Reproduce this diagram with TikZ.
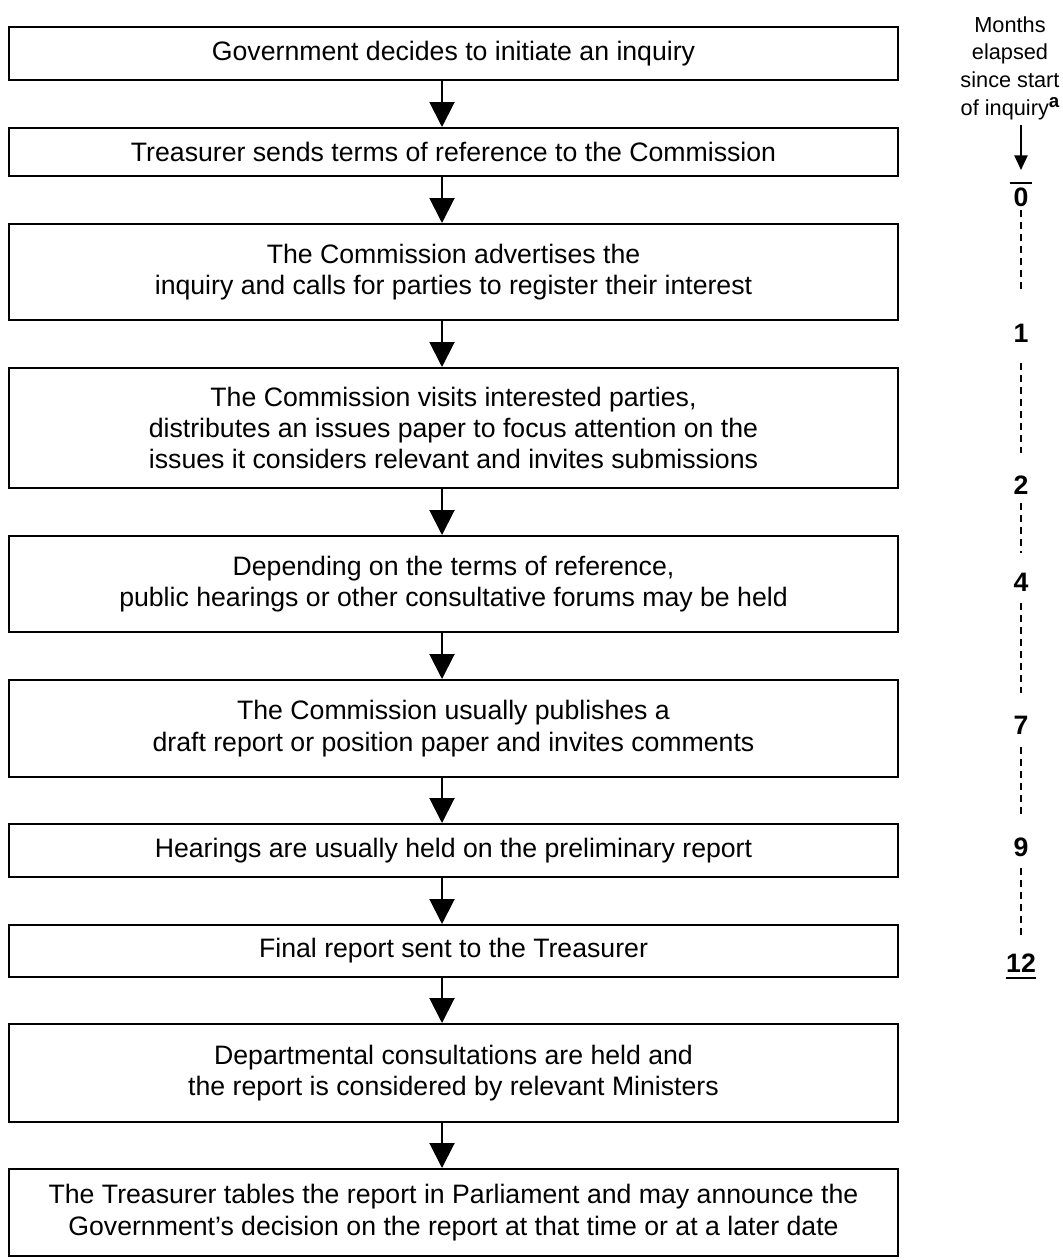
\documentclass[tikz,border=0pt]{standalone}
\usepackage{fontspec}
\setmainfont{Liberation Sans}
\usetikzlibrary{arrows.meta}
\begin{document}
\begin{tikzpicture}[x=0.75pt,y=-0.75pt,
  stepbox/.style={draw, line width=1.5pt, minimum width=666.75pt, inner sep=0pt, align=center,
    font=\fontsize{20}{23.5}\selectfont},
  flow/.style={line width=1.5pt, -{Triangle[length=18.75pt,width=18.75pt]}},
  mlabel/.style={font=\fontsize{20}{24}\selectfont\bfseries, inner sep=0pt},
  hdrtext/.style={font=\fontsize{16.3}{20.8}\selectfont, align=center, inner sep=0pt},
  tarr/.style={line width=1.1pt, -{Triangle[length=11pt,width=10pt]}},
  dashline/.style={line width=1.1pt, dash pattern=on 5pt off 4pt},
  barline/.style={line width=1.6pt}
]
\useasboundingbox (0,0) rectangle (1063,1260);

% process boxes
\node[stepbox, minimum height=39.75pt] (b1) at (453.5,53.5) {Government decides to initiate an inquiry};
\node[stepbox, minimum height=36pt] (b2) at (453.5,152) {Treasurer sends terms of reference to the Commission};
\node[stepbox, minimum height=72pt] (b3) at (453.5,272) {The Commission advertises the\\inquiry and calls for parties to register their interest};
\node[stepbox, minimum height=90pt] (b4) at (453.5,428) {The Commission visits interested parties,\\distributes an issues paper to focus attention on the\\issues it considers relevant and invites submissions};
\node[stepbox, minimum height=72pt] (b5) at (453.5,584) {Depending on the terms of reference,\\public hearings or other consultative forums may be held};
\node[stepbox, minimum height=72.75pt] (b6) at (453.5,728.5) {The Commission usually publishes a\\draft report or position paper and invites comments};
\node[stepbox, minimum height=39.75pt] (b7) at (453.5,850.5) {Hearings are usually held on the preliminary report};
\node[stepbox, minimum height=39pt] (b8) at (453.5,951) {Final report sent to the Treasurer};
\node[stepbox, minimum height=73.5pt] (b9) at (453.5,1073) {Departmental consultations are held and\\the report is considered by relevant Ministers};
\node[stepbox, minimum height=65.25pt] (b10) at (453.5,1212.5) {The Treasurer tables the report in Parliament and may announce the\\Government’s decision on the report at that time or at a later date};

\coordinate (ax) at (442,0);
\foreach \a/\b in {b1/b2,b2/b3,b3/b4,b4/b5,b5/b6,b6/b7,b7/b8,b8/b9,b9/b10}
  \draw[flow] (\a.south -| ax) -- (\b.north -| ax);

% timeline
\node[hdrtext] (hdr) at (1010,68) {Months\\elapsed\\since start\\of inquiry{\fontsize{14}{14}\selectfont\bfseries\raisebox{6pt}{a}}};
\node[mlabel] (m0) at (1021,197) {0};
\node[mlabel] (m1) at (1021,333) {1};
\node[mlabel] (m2) at (1021,485) {2};
\node[mlabel] (m4) at (1021,582) {4};
\node[mlabel] (m7) at (1021,725) {7};
\node[mlabel] (m9) at (1021,847) {9};
\node[mlabel] (m12) at (1021,963) {12};

\draw[tarr, shorten <=4pt, shorten >=13pt] (hdr.south -| m0) -- (m0.north);
\draw[barline] ([xshift=-8.6pt,yshift=3.4pt]m0.north) -- ([xshift=8.6pt,yshift=3.4pt]m0.north);
\draw[barline] ([yshift=-4pt]m12.south west) -- ([yshift=-4pt]m12.south east);

\draw[dashline, shorten <=9.75pt, shorten >=32pt] (m0.center) -- (m1.center);
\draw[dashline, shorten <=22.5pt, shorten >=24pt] (m1.center) -- (m2.center);
\draw[dashline, shorten <=13.5pt, shorten >=21.75pt] (m2.center) -- (m4.center);
\draw[dashline, shorten <=15.75pt, shorten >=24pt] (m4.center) -- (m7.center);
\draw[dashline, shorten <=16.5pt, shorten >=21.75pt] (m7.center) -- (m9.center);
\draw[dashline, shorten <=15.75pt, shorten >=18.75pt] (m9.center) -- (m12.center);
\end{tikzpicture}
\end{document}
